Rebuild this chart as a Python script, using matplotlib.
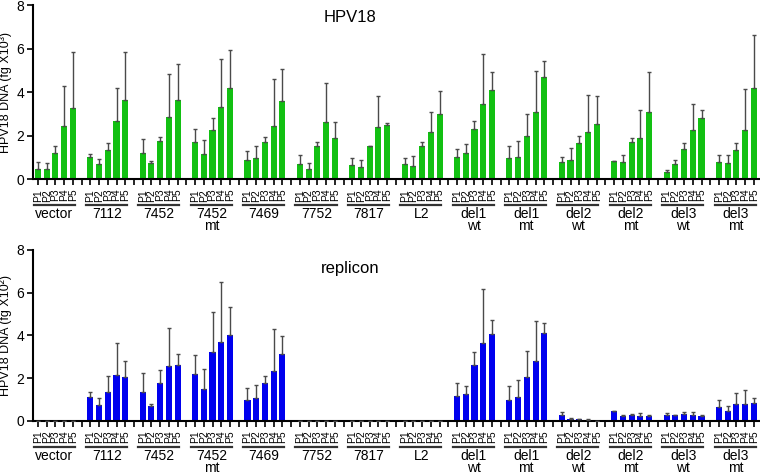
import numpy as np
import matplotlib.pyplot as plt
from matplotlib.transforms import ScaledTranslation

plt.rcParams['font.family'] = ['Liberation Sans', 'DejaVu Sans']

# group names and passages
groups = ['vector', '7112', '7452', '7452\nmt', '7469', '7752', '7817', 'L2',
          'del1\nwt', 'del1\nmt', 'del2\nwt', 'del2\nmt', 'del3\nwt', 'del3\nmt']
passages = ['P1', 'P2', 'P3', 'P4', 'P5']

# HPV18 panel (fg x10^3): mean and top of error bar, one row per group
hpv18_mean = [
    [0.46, 0.47, 1.22, 2.45, 3.27],
    [1.00, 0.70, 1.33, 2.65, 3.65],
    [1.20, 0.72, 1.75, 2.87, 3.65],
    [1.72, 1.15, 2.25, 3.30, 4.20],
    [0.86, 0.97, 1.72, 2.45, 3.60],
    [0.70, 0.48, 1.53, 2.62, 1.89],
    [0.63, 0.57, 1.53, 2.40, 2.50],
    [0.69, 0.61, 1.53, 2.17, 3.00],
    [1.01, 1.20, 2.32, 3.45, 4.08],
    [0.97, 1.00, 1.99, 3.08, 4.69],
    [0.80, 0.89, 1.67, 2.16, 2.55],
    [0.84, 0.77, 1.70, 1.90, 3.10],
    [0.32, 0.69, 1.37, 2.25, 2.82],
    [0.80, 0.72, 1.33, 2.27, 4.19],
]
hpv18_top = [
    [0.80, 0.75, 1.53, 4.28, 5.83],
    [1.15, 0.93, 1.65, 4.17, 5.83],
    [1.85, 0.83, 1.93, 4.83, 5.30],
    [2.30, 1.78, 2.80, 5.53, 5.92],
    [1.30, 1.50, 1.92, 4.60, 5.05],
    [1.10, 0.75, 1.69, 4.40, 2.62],
    [0.95, 0.87, 1.53, 3.80, 2.56],
    [0.97, 1.06, 1.72, 3.08, 4.03],
    [1.40, 1.60, 2.65, 5.75, 4.94],
    [1.52, 1.75, 2.99, 4.98, 5.44],
    [1.03, 1.44, 2.00, 3.85, 3.83],
    [0.85, 1.10, 1.87, 3.17, 4.92],
    [0.40, 0.89, 1.67, 3.44, 3.20],
    [1.12, 1.10, 1.64, 4.14, 6.61],
]

# replicon panel (fg x10^2)
rep_mean = [
    [0, 0, 0, 0, 0],
    [1.13, 0.76, 1.36, 2.16, 2.04],
    [1.36, 0.69, 1.79, 2.55, 2.63],
    [2.18, 1.51, 3.20, 3.69, 4.03],
    [0.99, 1.08, 1.79, 2.35, 3.12],
    [0.01, 0, 0, 0, 0],
    [0.01, 0, 0, 0, 0],
    [0.01, 0, 0, 0, 0],
    [1.16, 1.25, 2.59, 3.66, 4.05],
    [0.99, 1.11, 2.04, 2.81, 4.11],
    [0.28, 0.09, 0.08, 0.06, 0.01],
    [0.46, 0.22, 0.29, 0.23, 0.22],
    [0.28, 0.26, 0.31, 0.26, 0.22],
    [0.65, 0.46, 0.79, 0.79, 0.82],
]
rep_top = [
    [0, 0, 0, 0, 0],
    [1.33, 1.05, 2.10, 3.66, 2.78],
    [2.25, 0.80, 2.38, 4.36, 3.15],
    [3.09, 2.42, 5.07, 6.49, 5.33],
    [1.56, 1.68, 2.12, 4.31, 3.97],
    [0.01, 0, 0, 0, 0],
    [0.01, 0, 0, 0, 0],
    [0.01, 0, 0, 0, 0],
    [1.75, 1.61, 3.24, 6.16, 4.71],
    [1.65, 1.92, 3.27, 4.66, 4.59],
    [0.40, 0.11, 0.10, 0.08, 0.01],
    [0.48, 0.26, 0.32, 0.39, 0.29],
    [0.39, 0.28, 0.43, 0.42, 0.28],
    [0.99, 0.71, 1.30, 1.45, 1.05],
]


def draw_panel(ax, mean, top, color, title, ylabel, title_y):
    mean = np.array(mean)
    top = np.array(top)
    x = (np.arange(len(groups))[:, None] * 6 + np.arange(5)).ravel()
    m = mean.ravel()
    err = np.clip(top.ravel() - m, 0, None)
    ax.bar(x, m, width=0.7, color=color, zorder=2)
    ax.errorbar(x, m, yerr=[np.zeros_like(err), err], fmt='none',
                ecolor='#4a4a4a', elinewidth=1, capsize=1.5, capthick=1, zorder=3)

    ax.set_ylim(0, 8)
    ax.set_yticks([0, 2, 4, 6, 8])
    ax.set_xlim(-0.6, 82.7)
    slots = np.arange(0, 83)
    ax.set_xticks(slots)
    ax.set_xticklabels([passages[s % 6] if s % 6 < 5 else '' for s in slots],
                       rotation=90, fontsize=7.5)
    ax.tick_params(axis='x', length=4, width=1.2, pad=3)
    ax.tick_params(axis='y', length=4, width=1.2, pad=2, labelsize=10)
    for side in ['top', 'right']:
        ax.spines[side].set_visible(False)
    for side in ['left', 'bottom']:
        ax.spines[side].set_linewidth(1.5)
    ax.set_ylabel(ylabel, fontsize=9)
    ax.yaxis.set_label_coords(-0.028, 0.5)
    ax.text(0.436, title_y, title, transform=ax.transAxes, ha='center',
            va='center', fontsize=12)

    fig = ax.figure
    line_tr = ax.get_xaxis_transform() + ScaledTranslation(0, -0.26, fig.dpi_scale_trans)
    text_tr = ax.get_xaxis_transform() + ScaledTranslation(0, -0.28, fig.dpi_scale_trans)
    for g, name in enumerate(groups):
        x0 = g * 6
        ax.plot([x0 - 0.5, x0 + 4.2], [0, 0], transform=line_tr, clip_on=False,
                color='#333333', lw=1.6)
        ax.text(x0 + 1.9, 0, name, transform=text_tr, ha='center', va='top',
                fontsize=10, linespacing=0.8)


fig = plt.figure(figsize=(7.6, 4.75), dpi=100)
ax1 = fig.add_axes([0.043, 0.623, 0.957, 0.366])
ax2 = fig.add_axes([0.043, 0.114, 0.957, 0.36])

draw_panel(ax1, hpv18_mean, hpv18_top, '#12c012', 'HPV18',
           'HPV18 DNA (fg X10\u00b3)', 0.93)
draw_panel(ax2, rep_mean, rep_top, '#0000ee', 'replicon',
           'HPV18 DNA (fg X10\u00b2)', 0.89)

fig.savefig('out.png', dpi=100)
